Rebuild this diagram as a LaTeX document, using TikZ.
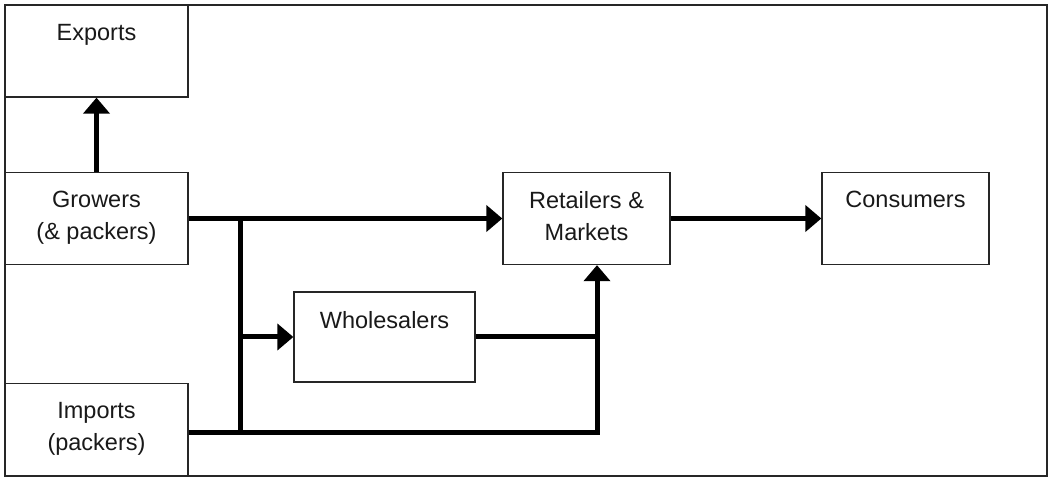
\documentclass[tikz,border=0pt]{standalone}
\usepackage{fontspec}
\setmainfont{Liberation Sans}
\usetikzlibrary{arrows.meta}
\begin{document}
\begin{tikzpicture}[x=1pt,y=-1pt,
  box/.style={draw=black!85, line width=1.3pt, fill=white, rectangle,
    minimum width=183pt, minimum height=92pt, inner sep=0pt,
    label={[anchor=north, inner sep=0pt, yshift=-19.5pt, align=center,
      font=\fontsize{23.5}{32}\selectfont, text=black!90]north:#1}},
  wire/.style={line width=5pt, black},
  flow/.style={wire, -{Triangle[length=16pt, width=26pt]}}
]
\useasboundingbox (0,0) rectangle (1050,478);
% outer frame
\draw[black!85, line width=1.5pt] (5,5) rectangle (1047,476);

% boxes
\node[box={Exports}] (exp) at (96.5,51) {};
\node[box={Growers\\(\& packers)}] (gro) at (96.5,218.5) {};
\node[box={Retailers \&\\Markets}, minimum width=167pt] (ret) at (586.5,218.5) {};
\node[box={Consumers}, minimum width=167pt] (con) at (905.5,218.5) {};
\node[box={Wholesalers}, minimum width=181pt, minimum height=90pt] (who) at (384.5,337) {};
\node[box={Imports\\(packers)}] (imp) at (96.5,429.5) {};

% junction points of the distribution lines
\coordinate (vx) at (240,0);
\coordinate (rx) at (597,0);
\coordinate (bot) at (240,432);

% flows
\draw[flow] (gro.north) -- (exp.south);
\draw[flow] (gro.east) -- (ret.west);
\draw[wire] (gro.east -| vx) -- (bot);
\draw[flow] (vx |- who.west) -- (who.west);
\draw[wire] (who.east) -- (rx |- who.east);
\draw[flow] (imp.east |- bot) -- (rx |- bot) -- (rx |- ret.south);
\draw[flow] (ret.east) -- (con.west);
\end{tikzpicture}
\end{document}
